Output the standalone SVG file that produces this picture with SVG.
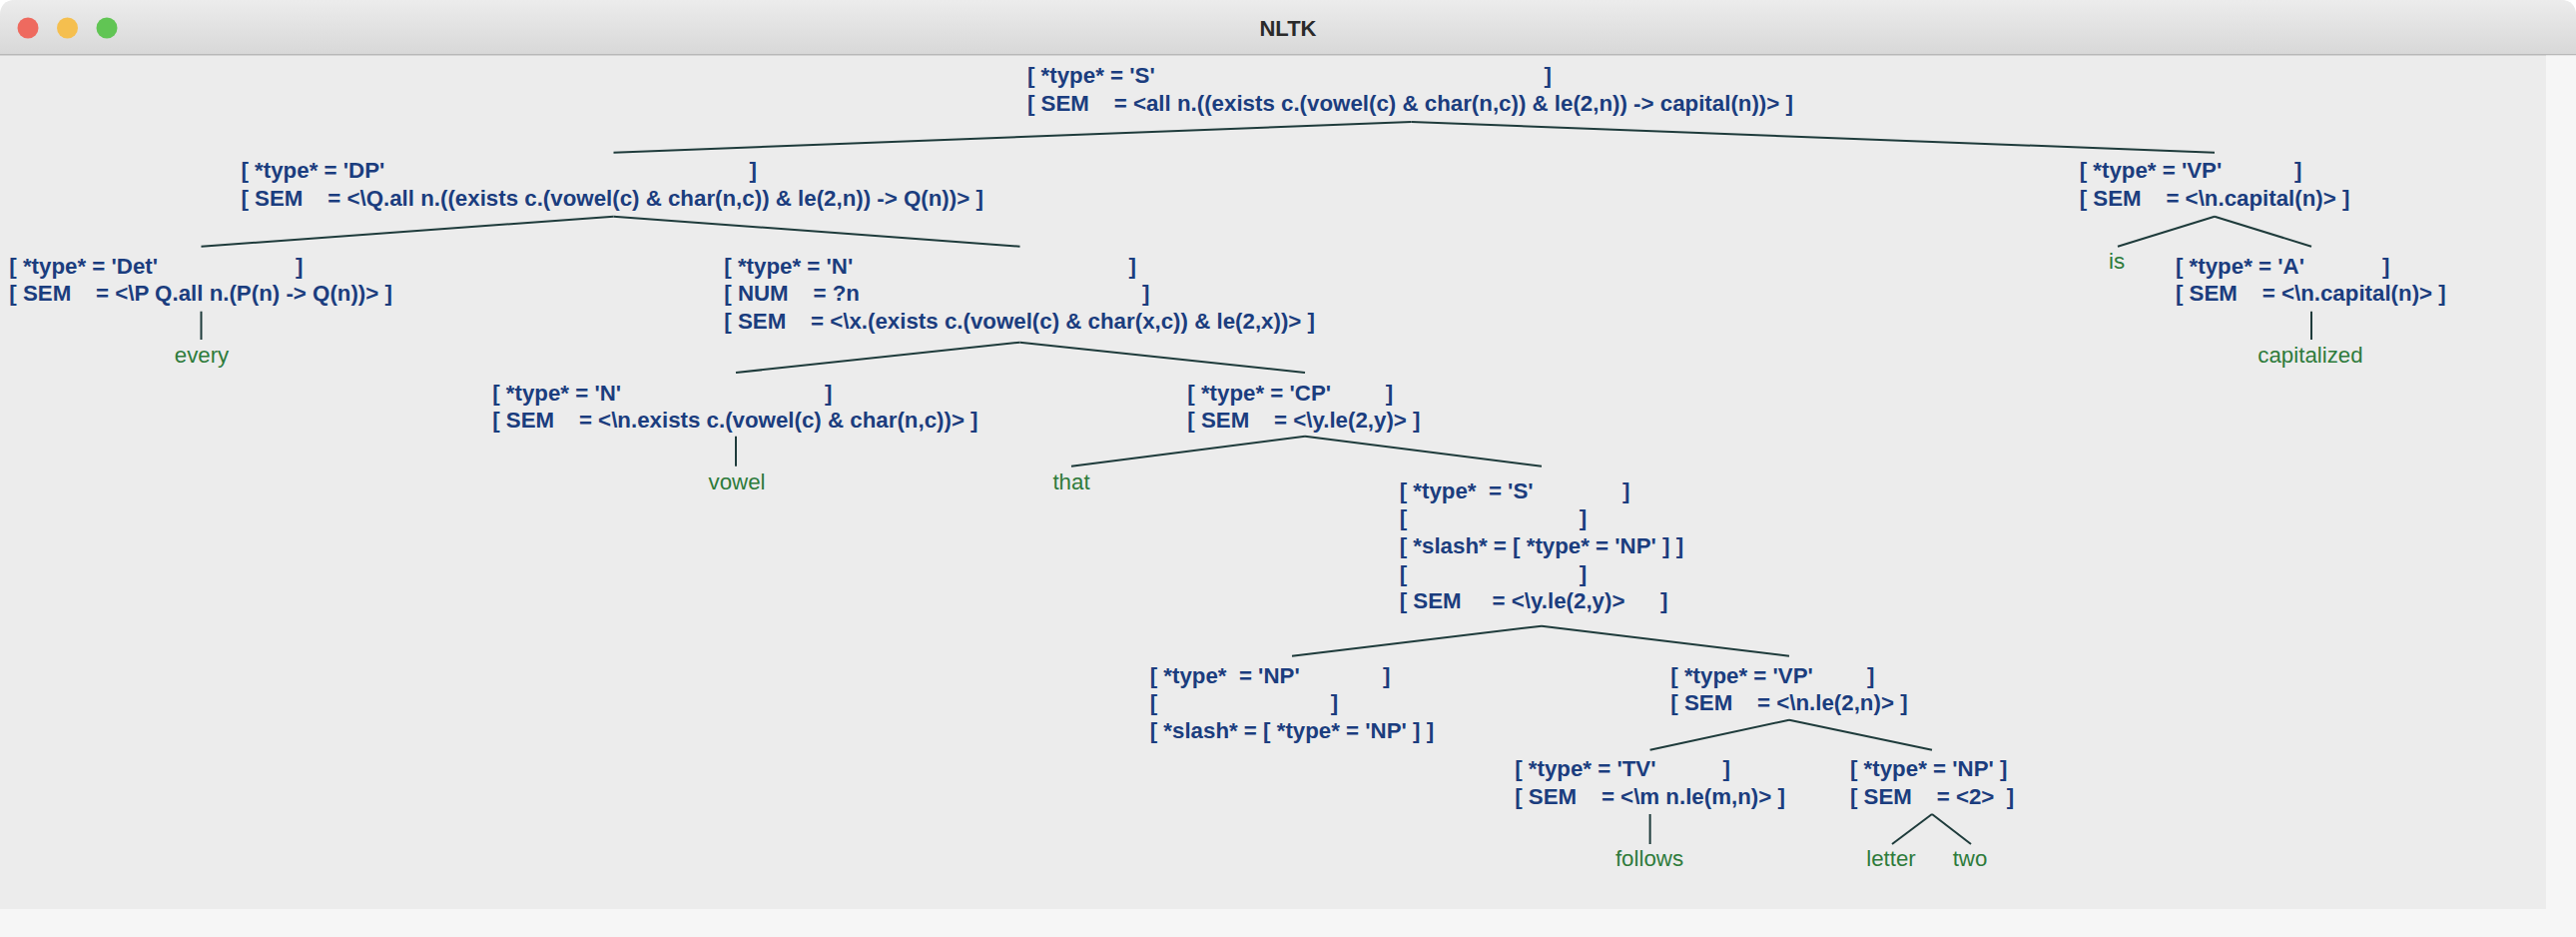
<svg xmlns="http://www.w3.org/2000/svg" width="2580" height="938" viewBox="0 0 2580 938">
<defs>
<linearGradient id="tb" x1="0" y1="0" x2="0" y2="1"><stop offset="0" stop-color="#ececec"/><stop offset="1" stop-color="#d8d8d8"/></linearGradient>
</defs>
<style>
.n{font-family:"Liberation Sans",Arial,sans-serif;font-weight:bold;font-size:22.3px;fill:#1b3d7e}
.l{font-family:"Liberation Sans",Arial,sans-serif;font-size:22.3px;fill:#2e7b3b;text-anchor:middle}
.c line{stroke:#1e3b3b;stroke-width:2;stroke-linecap:butt}
.ttl{font-family:"Liberation Sans",Arial,sans-serif;font-weight:bold;font-size:22px;fill:#2a2a2a;text-anchor:middle}
</style>
<rect x="0" y="0" width="2580" height="938" fill="#ffffff"/>
<g id="window">
<path d="M0,16 Q0,0 16,0 H2564 Q2580,0 2580,16 V938 H0 Z" fill="#ececec"/>
<path d="M0,16 Q0,0 16,0 H2564 Q2580,0 2580,16 V54 H0 Z" fill="url(#tb)"/>
<rect x="0" y="54" width="2580" height="1.5" fill="#b8b8b8"/>
<rect x="2550" y="55.5" width="30" height="882.5" fill="#f6f6f6"/>
<rect x="0" y="910" width="2580" height="28" fill="#f6f6f6"/>
<circle cx="28" cy="28" r="10.5" fill="#ee6a5f"/>
<circle cx="67.5" cy="28" r="10.5" fill="#f5bf4f"/>
<circle cx="107" cy="28" r="10.5" fill="#61c554"/>
<text class="ttl" x="1290" y="35.5">NLTK</text>
</g>
<g id="connectors" class="c">
<line x1="1413.5" y1="122" x2="614.5" y2="152.7"/>
<line x1="1413.5" y1="122" x2="2218" y2="152.7"/>
<line x1="614.5" y1="216.7" x2="201.5" y2="246.7"/>
<line x1="614.5" y1="216.7" x2="1021.5" y2="246.7"/>
<line x1="2218" y1="216.7" x2="2121" y2="246.7"/>
<line x1="2218" y1="216.7" x2="2315" y2="246.7"/>
<line x1="201.5" y1="311.7" x2="201.5" y2="340"/>
<line x1="2315" y1="311.7" x2="2315" y2="340"/>
<line x1="1021.5" y1="342.7" x2="737" y2="373"/>
<line x1="1021.5" y1="342.7" x2="1307" y2="373"/>
<line x1="737" y1="436.7" x2="737" y2="466.7"/>
<line x1="1307" y1="436.7" x2="1073" y2="466.7"/>
<line x1="1307" y1="436.7" x2="1544" y2="466.7"/>
<line x1="1544" y1="626.7" x2="1294" y2="656.7"/>
<line x1="1544" y1="626.7" x2="1792" y2="656.7"/>
<line x1="1792" y1="720.7" x2="1652.6" y2="750.7"/>
<line x1="1792" y1="720.7" x2="1935" y2="750.7"/>
<line x1="1652.6" y1="815" x2="1652.6" y2="845"/>
<line x1="1935" y1="815" x2="1895" y2="845"/>
<line x1="1935" y1="815" x2="1974" y2="845"/>
</g>
<g id="node-S-root" class="n">
<text x="1029" y="83">[ *type* = 'S'</text><text x="1546.5" y="83">]</text>
<text x="1029" y="110.7">[ SEM&#160;&#160;&#160;&#160;= &lt;all n.((exists c.(vowel(c) &amp; char(n,c)) &amp; le(2,n)) -&gt; capital(n))&gt; ]</text>
</g>
<g id="node-DP" class="n">
<text x="241.5" y="178">[ *type* = 'DP'</text><text x="750.5" y="178">]</text>
<text x="241.5" y="205.5">[ SEM&#160;&#160;&#160;&#160;= &lt;\Q.all n.((exists c.(vowel(c) &amp; char(n,c)) &amp; le(2,n)) -&gt; Q(n))&gt; ]</text>
</g>
<g id="node-VP" class="n">
<text x="2082.7" y="178">[ *type* = 'VP'</text><text x="2298" y="178">]</text>
<text x="2082.7" y="205.5">[ SEM&#160;&#160;&#160;&#160;= &lt;\n.capital(n)&gt; ]</text>
</g>
<g id="node-Det" class="n">
<text x="9.3" y="273.5">[ *type* = 'Det'</text><text x="296" y="273.5">]</text>
<text x="9.3" y="301">[ SEM&#160;&#160;&#160;&#160;= &lt;\P Q.all n.(P(n) -&gt; Q(n))&gt; ]</text>
</g>
<g id="leaf-every"><text class="l" x="202" y="363">every</text></g>
<g id="node-N" class="n">
<text x="725.3" y="273.5">[ *type* = 'N'</text><text x="1130.6" y="273.5">]</text>
<text x="725.3" y="301">[ NUM&#160;&#160;&#160;&#160;= ?n</text><text x="1144" y="301">]</text>
<text x="725.3" y="328.5">[ SEM&#160;&#160;&#160;&#160;= &lt;\x.(exists c.(vowel(c) &amp; char(x,c)) &amp; le(2,x))&gt; ]</text>
</g>
<g id="leaf-is"><text class="l" x="2120" y="269.3">is</text></g>
<g id="node-A" class="n">
<text x="2179" y="273.5">[ *type* = 'A'</text><text x="2386" y="273.5">]</text>
<text x="2179" y="301">[ SEM&#160;&#160;&#160;&#160;= &lt;\n.capital(n)&gt; ]</text>
</g>
<g id="leaf-capitalized"><text class="l" x="2314" y="363">capitalized</text></g>
<g id="node-N-vowel" class="n">
<text x="493.2" y="400.5">[ *type* = 'N'</text><text x="826" y="400.5">]</text>
<text x="493.2" y="427.5">[ SEM&#160;&#160;&#160;&#160;= &lt;\n.exists c.(vowel(c) &amp; char(n,c))&gt; ]</text>
</g>
<g id="leaf-vowel"><text class="l" x="738" y="489.5">vowel</text></g>
<g id="node-CP" class="n">
<text x="1189.3" y="400.5">[ *type* = 'CP'</text><text x="1387.7" y="400.5">]</text>
<text x="1189.3" y="427.5">[ SEM&#160;&#160;&#160;&#160;= &lt;\y.le(2,y)&gt; ]</text>
</g>
<g id="leaf-that"><text class="l" x="1073" y="489.5">that</text></g>
<g id="node-S-slash" class="n">
<text x="1401.7" y="498.5">[ *type*&#160;&#160;= 'S'</text><text x="1625" y="498.5">]</text>
<text x="1401.7" y="526.2">[</text><text x="1581.7" y="526.2">]</text>
<text x="1401.7" y="553.9">[ *slash* = [ *type* = 'NP' ] ]</text>
<text x="1401.7" y="581.6">[</text><text x="1581.7" y="581.6">]</text>
<text x="1401.7" y="609.3">[ SEM&#160;&#160;&#160;&#160;&#160;= &lt;\y.le(2,y)&gt;</text><text x="1663" y="609.3">]</text>
</g>
<g id="node-NP-slash" class="n">
<text x="1151.7" y="683.5">[ *type*&#160;&#160;= 'NP'</text><text x="1385" y="683.5">]</text>
<text x="1151.7" y="711">[</text><text x="1332.7" y="711">]</text>
<text x="1151.7" y="738.5">[ *slash* = [ *type* = 'NP' ] ]</text>
</g>
<g id="node-VP2" class="n">
<text x="1673.3" y="683.5">[ *type* = 'VP'</text><text x="1870" y="683.5">]</text>
<text x="1673.3" y="711">[ SEM&#160;&#160;&#160;&#160;= &lt;\n.le(2,n)&gt; ]</text>
</g>
<g id="node-TV" class="n">
<text x="1517.2" y="777">[ *type* = 'TV'</text><text x="1725.5" y="777">]</text>
<text x="1517.2" y="804.5">[ SEM&#160;&#160;&#160;&#160;= &lt;\m n.le(m,n)&gt; ]</text>
</g>
<g id="leaf-follows"><text class="l" x="1652" y="866.7">follows</text></g>
<g id="node-NP" class="n">
<text x="1853" y="777">[ *type* = 'NP' ]</text>
<text x="1853" y="804.5">[ SEM&#160;&#160;&#160;&#160;= &lt;2&gt;&#160;&#160;]</text>
</g>
<g id="leaf-letter"><text class="l" x="1894" y="866.7">letter</text></g>
<g id="leaf-two"><text class="l" x="1973" y="866.7">two</text></g>
</svg>
